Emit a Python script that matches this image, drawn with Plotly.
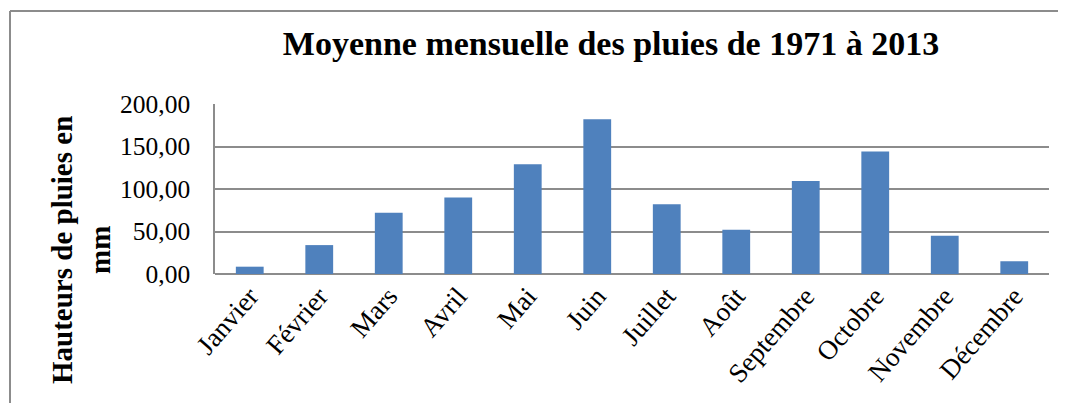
import plotly.graph_objects as go

months = ["Janvier", "Février", "Mars", "Avril", "Mai", "Juin", "Juillet",
          "Août", "Septembre", "Octobre", "Novembre", "Décembre"]
rain_mm = [8.6, 34.0, 72.0, 90.0, 129.0, 182.0, 82.0, 52.0, 109.5, 144.0, 45.0, 15.0]
y_ticks = [0, 50, 100, 150, 200]
y_tick_labels = ["0,00", "50,00", "100,00", "150,00", "200,00"]

# page body adds an 8px offset; figure coordinates below are in figure pixels
W, H = 1058, 395
L, R, T, B = 207, 17, 96, 129
PW, PH = W - L - R, H - T - B

def px(x):
    return (x - L) / PW

def py(y):
    return (H - B - y) / PH

fig = go.Figure(go.Bar(x=months, y=rain_mm, marker=dict(color="#4F81BD", line=dict(width=0))))

fig.update_layout(
    width=W, height=H,
    margin=dict(l=L, r=R, t=T, b=B),
    paper_bgcolor="white", plot_bgcolor="white",
    bargap=0.6,
    showlegend=False,
    font=dict(family="Liberation Serif", color="black"),
    title=dict(text="<b>Moyenne mensuelle des pluies de 1971 à 2013</b>",
               font=dict(family="Liberation Serif", size=34, color="black"),
               x=603 / W, xref="container", xanchor="center",
               y=1 - 35 / H, yref="container", yanchor="middle"),
    xaxis=dict(tickangle=-49, tickfont=dict(size=27), showgrid=False,
               showline=False, ticks=""),
    yaxis=dict(range=[0, 200], tickvals=y_ticks, ticktext=y_tick_labels,
               tickfont=dict(size=25.5), showgrid=True, gridcolor="#8c8c8c",
               gridwidth=1.5, showline=True, linecolor="#8c8c8c", linewidth=1.5,
               zeroline=True, zerolinecolor="#8c8c8c", zerolinewidth=1.5,
               ticks="", ticklabelstandoff=18),
    annotations=[dict(text="<b>Hauteurs de pluies en<br>mm</b>", textangle=-90,
                      xref="paper", yref="paper", x=px(73), y=py(242),
                      xanchor="center", yanchor="middle", showarrow=False,
                      font=dict(family="Liberation Serif", size=29, color="black"))],
    shapes=[
        dict(type="line", xref="paper", yref="paper", x0=px(2), x1=px(1070),
             y0=py(3), y1=py(3), line=dict(color="#8c8c8c", width=2)),
        dict(type="line", xref="paper", yref="paper", x0=px(2), x1=px(2),
             y0=py(3), y1=py(410), line=dict(color="#8c8c8c", width=2)),
    ],
)

fig.write_html("out.html")
